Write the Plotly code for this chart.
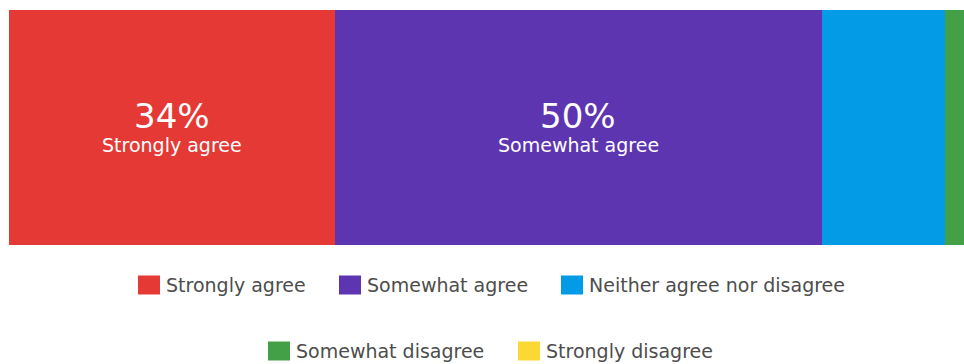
import plotly.graph_objects as go

categories = ["Strongly agree", "Somewhat agree", "Neither agree nor disagree",
              "Somewhat disagree", "Strongly disagree"]
values = [33.7, 50.3, 12.8, 2.2, 1.0]
labels_pct = ["34%", "50%", "13%", "2%", "1%"]
colors = ["#E53935", "#5E35B1", "#039BE5", "#43A047", "#FDD835"]
legend_rows = [[0, 1, 2], [3, 4]]

W, H = 964, 364
ML, MR, MT, MB = 9, 0, 10, 119
PW, PH = W - ML - MR, H - MT - MB
FONT = "DejaVu Sans"
VALUE_BOTTOM_PX = 137
LABEL_TOP_PX = 133

fig = go.Figure()
for cat, v, c in zip(categories, values, colors):
    fig.add_trace(go.Bar(x=[v], y=["q"], orientation="h", name=cat,
                         marker=dict(color=c, line=dict(width=0)),
                         hoverinfo="skip", showlegend=False))

annotations = []
cum = 0.0
for cat, v, p in zip(categories, values, labels_pct):
    mid = cum + v / 2
    cum += v
    if v >= 20:
        annotations.append(dict(x=mid, y=0, xref="x", yref="y", text=p, showarrow=False,
                                yanchor="bottom", yshift=MT + PH / 2 - VALUE_BOTTOM_PX, borderpad=0,
                                font=dict(family=FONT, size=34, color="white")))
        annotations.append(dict(x=mid, y=0, xref="x", yref="y", text=cat, showarrow=False,
                                yanchor="top", yshift=MT + PH / 2 - LABEL_TOP_PX, borderpad=0,
                                font=dict(family=FONT, size=19, color="white")))

def px2x(px):
    return (px - ML) / PW

def py2y(py):
    return (MT + PH - py) / PH

# custom legend
row_y = [285, 351]
swatch_left = [[138, 339, 561], [268, 518]]
shapes = []
for r, items in enumerate(legend_rows):
    for k, idx in enumerate(items):
        sx = swatch_left[r][k]
        cy = row_y[r]
        shapes.append(dict(type="rect", xref="paper", yref="paper",
                           x0=px2x(sx), x1=px2x(sx + 22), y0=py2y(cy + 9.5), y1=py2y(cy - 9.5),
                           fillcolor=colors[idx], line=dict(width=0), layer="above"))
        annotations.append(dict(x=px2x(sx + 26), y=py2y(cy), xref="paper", yref="paper",
                                xanchor="left", yanchor="middle", text=categories[idx], showarrow=False,
                                font=dict(family=FONT, size=19, color="#4d4d4d")))

visible_max = 100 * PW / 967.4

fig.update_layout(
    width=W, height=H, margin=dict(l=ML, r=MR, t=MT, b=MB),
    barmode="stack", bargap=0,
    plot_bgcolor="white", paper_bgcolor="white",
    xaxis=dict(range=[0, visible_max], visible=False, fixedrange=True),
    yaxis=dict(range=[-0.5, 0.5], visible=False, fixedrange=True),
    annotations=annotations, shapes=shapes, showlegend=False,
)
fig.write_html("out.html")
